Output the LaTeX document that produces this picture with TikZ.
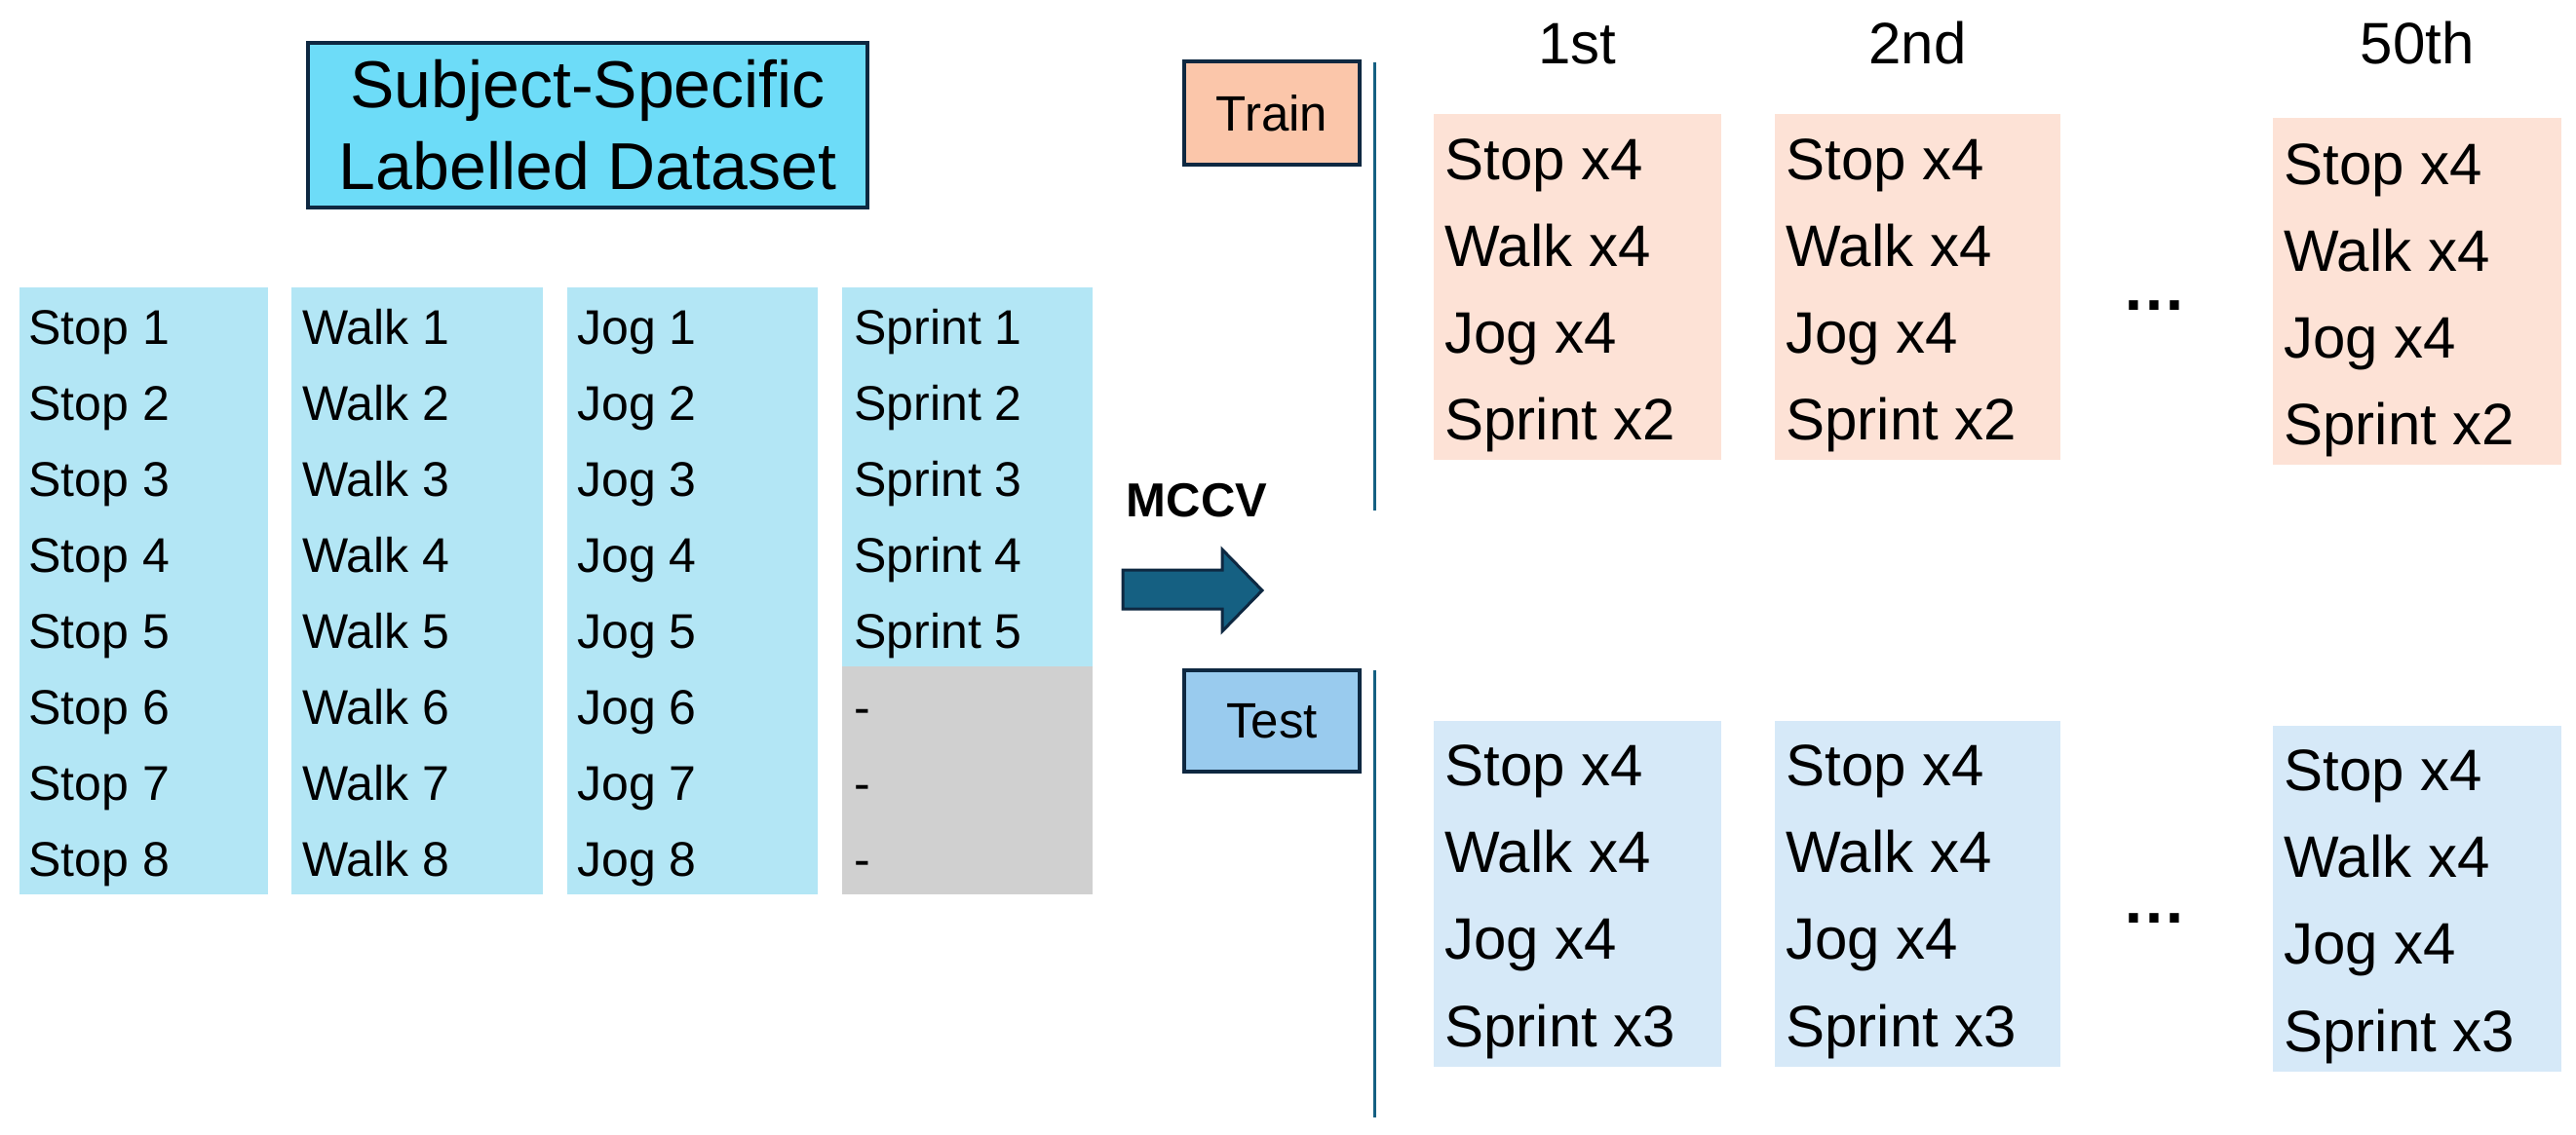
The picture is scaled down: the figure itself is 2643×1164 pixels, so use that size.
\documentclass[tikz,border=0pt]{standalone}
\usepackage{fontspec}
\setmainfont{Liberation Sans}
\definecolor{navy}{HTML}{0E2841}
\definecolor{tealc}{HTML}{156082}
\definecolor{titlefill}{HTML}{6DDCF8}
\definecolor{colblue}{HTML}{B3E6F5}
\definecolor{colgray}{HTML}{D0D0D0}
\definecolor{trainbox}{HTML}{FBC6AA}
\definecolor{traincol}{HTML}{FDE2D6}
\definecolor{testbox}{HTML}{99CBEE}
\definecolor{testcol}{HTML}{D6E9F8}
\begin{document}
\begin{tikzpicture}[x=0.5pt,y=-0.5pt,
  framebox/.style={draw=navy, line width=2pt, inner sep=0pt, outer sep=0pt},
  colbox/.style={draw=none, inner sep=0pt, outer sep=0pt},
  ltxt/.style={anchor=base west, inner sep=0pt, font=\fontsize{25}{30}\selectfont},
  rtxt/.style={anchor=base west, inner sep=0pt, font=\fontsize{30}{36}\selectfont},
  hdr/.style={anchor=base, inner sep=0pt, font=\fontsize{30}{36}\selectfont},
  dots/.style={anchor=base, inner sep=0pt, font=\fontsize{33}{40}\selectfont\bfseries},
  sep/.style={draw=tealc, line width=1.5pt}
]
\useasboundingbox (0,0) rectangle (2643,1164);

% title
\node[framebox, fill=titlefill, minimum width=287pt, minimum height=84.5pt,
      align=center, font=\fontsize{34}{42}\selectfont] (title) at (603,128.5)
      {Subject-Specific\\Labelled Dataset};

% left columns
\node[colbox, fill=colblue, minimum width=127.5pt, minimum height=311.5pt] (stopcol) at (147.5,606.5) {};
\node[colbox, fill=colblue, minimum width=129pt, minimum height=311.5pt] (walkcol) at (428,606.5) {};
\node[colbox, fill=colblue, minimum width=128.5pt, minimum height=311.5pt] (jogcol) at (710.5,606.5) {};
\node[colbox, fill=colblue, minimum width=128.5pt, minimum height=194.5pt] (sprintcol) at (992.5,489.5) {};
\node[colbox, fill=colgray, minimum width=128.5pt, minimum height=117pt] (sprintgap) at (992.5,801) {};

\foreach \i in {1,...,8}{
  \pgfmathsetmacro{\yy}{353+78*(\i-1)}
  \node[ltxt] (stop\i) at (29,\yy) {Stop \i};
  \node[ltxt] (walk\i) at (310,\yy) {Walk \i};
  \node[ltxt] (jog\i) at (592,\yy) {Jog \i};
}
\foreach \i in {1,...,5}{
  \pgfmathsetmacro{\yy}{353+78*(\i-1)}
  \node[ltxt] (sprint\i) at (876,\yy) {Sprint \i};
}
\foreach \i in {6,7,8}{
  \pgfmathsetmacro{\yy}{353+78*(\i-1)}
  \node[ltxt] (none\i) at (876,\yy) {-};
}

% MCCV arrow
\node[anchor=base, inner sep=0pt, font=\fontsize{24.5}{30}\selectfont\bfseries] (mccv) at (1228,530) {MCCV};
\path[fill=tealc, draw=navy, line width=1.5pt]
  (1152,585) -- (1254,585) -- (1254,564) -- (1295,606) -- (1254,648) -- (1254,625) -- (1152,625) -- cycle;

% Train / Test labels and separators
\node[framebox, fill=trainbox, minimum width=90pt, minimum height=53pt,
      font=\fontsize{25.5}{30}\selectfont] (train) at (1305,116) {Train};
\node[framebox, fill=testbox, minimum width=90pt, minimum height=52pt,
      font=\fontsize{25.5}{30}\selectfont] (test) at (1305,740) {Test};
\coordinate (trtop) at (1410,64);
\coordinate (trbot) at (1410,524);
\coordinate (tetop) at (1410,688);
\coordinate (tebot) at (1410,1147);
\draw[sep] (trtop) -- (trbot);
\draw[sep] (tetop) -- (tebot);

% headers
\node[hdr] (h1) at (1618.5,65) {1st};
\node[hdr] (h2) at (1967.5,65) {2nd};
\node[hdr] (h50) at (2480,65) {50th};

% train columns
\node[colbox, fill=traincol, minimum width=147.5pt, minimum height=177.5pt] (tr1) at (1618.5,294.5) {};
\node[colbox, fill=traincol, minimum width=146.5pt, minimum height=177.5pt] (tr2) at (1967.5,294.5) {};
\node[colbox, fill=traincol, minimum width=148pt, minimum height=178pt] (tr50) at (2480,299) {};
% test columns
\node[colbox, fill=testcol, minimum width=147.5pt, minimum height=177.5pt] (te1) at (1618.5,917.5) {};
\node[colbox, fill=testcol, minimum width=146.5pt, minimum height=177.5pt] (te2) at (1967.5,917.5) {};
\node[colbox, fill=testcol, minimum width=148pt, minimum height=177.5pt] (te50) at (2480,922.5) {};

\foreach \xx/\dy/\nm in {1482/0/a,1832/0/b,2343/5/c}{
  \node[rtxt] (trs\nm) at (\xx,184+\dy) {Stop x4};
  \node[rtxt] (trw\nm) at (\xx,273+\dy) {Walk x4};
  \node[rtxt] (trj\nm) at (\xx,362+\dy) {Jog x4};
  \node[rtxt] (trp\nm) at (\xx,451+\dy) {Sprint x2};
  \node[rtxt] (tes\nm) at (\xx,806+\dy) {Stop x4};
  \node[rtxt] (tew\nm) at (\xx,895+\dy) {Walk x4};
  \node[rtxt] (tej\nm) at (\xx,984+\dy) {Jog x4};
  \node[rtxt] (tep\nm) at (\xx,1074+\dy) {Sprint x3};
}

% ellipses
\node[dots] (dtr) at (2210,318) {…};
\node[dots] (dte) at (2210,947) {…};
\end{tikzpicture}
\end{document}
